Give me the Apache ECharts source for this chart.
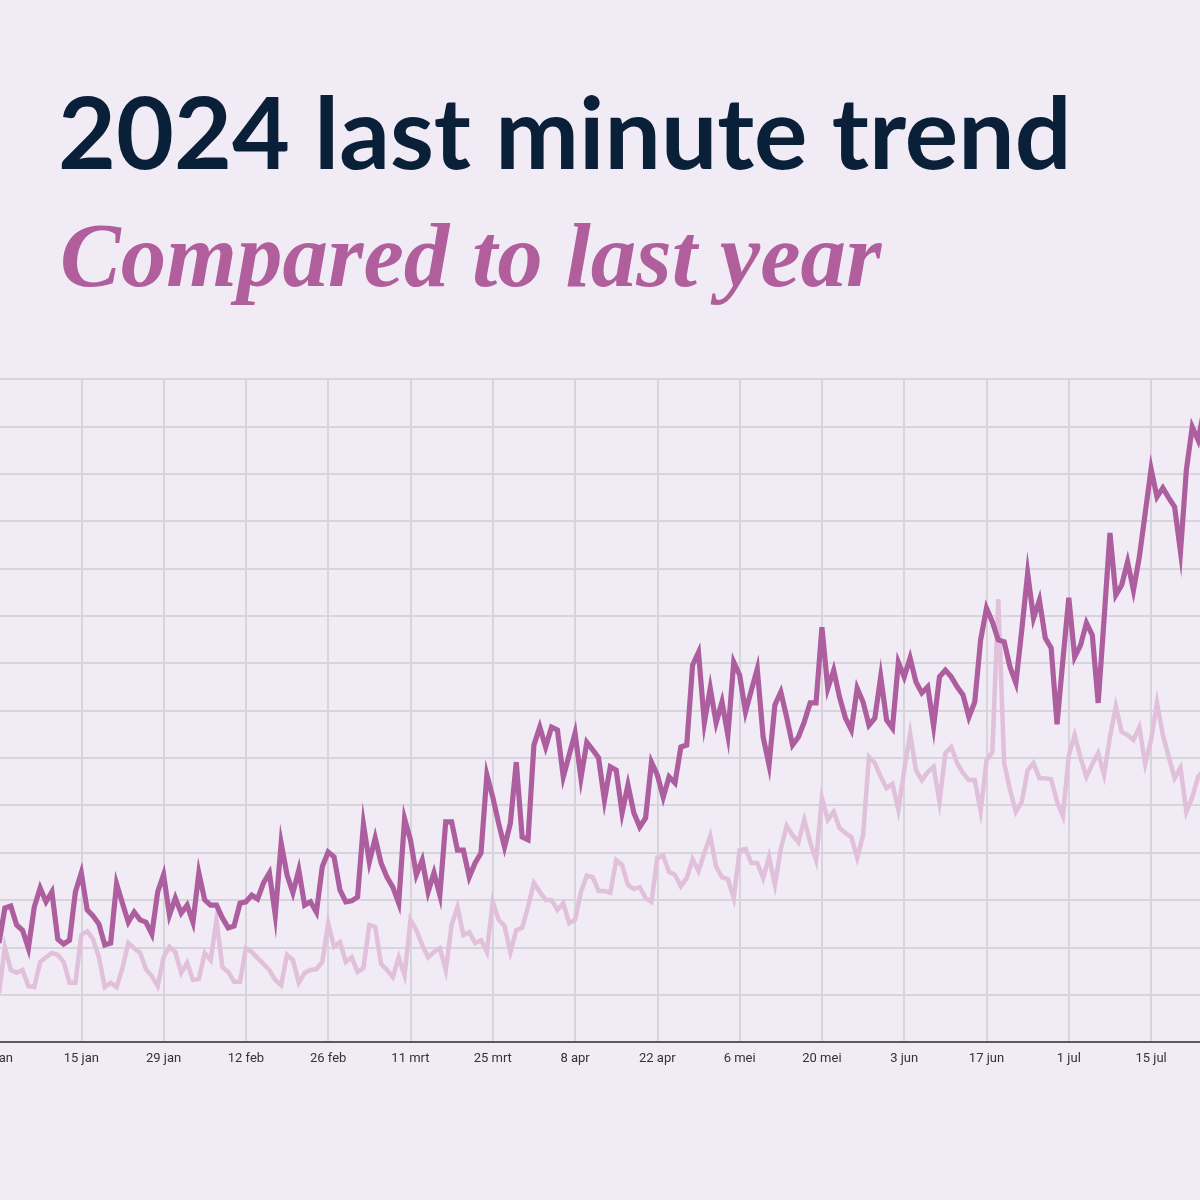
<!DOCTYPE html>
<html>
<head>
<meta charset="utf-8">
<script src="https://cdn.jsdelivr.net/npm/echarts@6/dist/echarts.min.js"></script>
<style>
html,body{margin:0;padding:0;background:#f0ebf4;}
#chart{width:1200px;height:1200px;}
</style>
</head>
<body>
<div id="chart"></div>
<script>
// Day index since 1 Jan 2024
const tickLabels = ['1 jan','15 jan','29 jan','12 feb','26 feb','11 mrt','25 mrt','8 apr','22 apr','6 mei','20 mei','3 jun','17 jun','1 jul','15 jul'];

// 2024 (dark line), one value per day from 1 Jan
const thisYear = [
209,283,287,247,236,198,285,325,296,317,217,207,215,317,357,279,266,249,205,209,
334,293,253,274,258,253,228,317,353,268,304,272,289,253,357,300,289,289,262,241,
245,293,296,310,302,336,357,268,420,353,315,363,289,296,274,370,401,391,321,296,
298,306,460,380,431,378,348,327,293,471,427,353,384,317,357,310,465,465,405,405,
348,378,399,564,517,462,412,462,591,433,427,627,665,623,665,659,560,606,652,557,
633,617,600,511,581,574,484,543,484,454,473,591,564,517,560,547,623,627,796,823,
674,747,674,718,648,802,775,697,743,788,644,585,712,739,686,627,644,676,716,716,
876,747,785,728,684,659,747,718,669,684,771,680,663,802,771,811,760,737,750,667,
771,785,771,750,733,686,718,849,916,887,849,845,792,758,870,990,895,933,853,832,
671,807,938,813,838,885,859,716,893,1075,944,965,1014,954,1024,1117,1210,1151,1170,1149,
1130,1035,1208,1299,1271,1334
];

// 2023 (light line), one value per day
const lastYear = [
103,201,152,146,152,118,116,169,179,188,184,169,125,125,226,234,217,179,116,125,
116,156,209,198,188,154,139,118,179,201,190,146,167,131,133,188,173,258,158,148,
127,127,198,190,177,165,152,131,120,184,173,125,146,152,154,169,251,201,211,169,
179,148,156,247,243,165,152,137,179,141,258,236,205,179,190,198,152,247,285,226,
232,209,215,190,296,258,245,190,236,241,285,336,317,300,300,279,293,251,258,317,
351,348,319,319,315,384,374,332,323,327,304,296,389,393,359,353,329,346,386,361,
399,435,370,348,344,304,405,408,378,378,346,391,332,408,456,437,422,469,422,384,
515,469,486,452,441,433,389,437,602,589,560,536,545,490,574,652,574,553,570,581,
507,610,623,589,568,553,553,488,595,612,935,589,532,486,507,574,589,557,557,555,
507,477,606,648,600,560,587,610,564,644,709,655,648,638,665,587,638,716,648,602,
557,579,486,517,560,574
];

const toPairs = arr => arr.map((v, i) => [i, v]);

const chart = echarts.init(document.getElementById('chart'), null, {renderer: 'canvas'});
chart.setOption({
  backgroundColor: '#f0ebf4',
  animation: false,
  grid: {
    left: -1, right: -4, top: 379, bottom: 158,
    containLabel: false,
    outerBoundsMode: 'none'
  },
  graphic: [
    {
      type: 'text', left: 58, top: 87,
      style: {
        text: '2024 last minute trend',
        font: '700 100px Lato',
        fill: '#0a1f38'
      }
    },
    {
      type: 'text', left: 60, top: 217,
      style: {
        text: 'Compared to last year',
        font: 'italic 700 91px "Liberation Serif"',
        fill: '#b05f9c'
      }
    }
  ],
  xAxis: {
    type: 'value',
    min: 0, max: 205, interval: 14,
    axisLine: {show: true, lineStyle: {color: '#5a5a5a', width: 2}},
    axisTick: {show: false},
    axisLabel: {
      show: true, margin: 10,
      color: '#333', fontSize: 13, fontFamily: 'Roboto',
      formatter: v => (v % 14 === 0 ? (tickLabels[v / 14] || '') : ''),
      showMaxLabel: false
    },
    splitLine: {show: true, lineStyle: {color: '#d8d4db', width: 2}}
  },
  yAxis: {
    type: 'value',
    min: 0, max: 1400, interval: 100,
    axisLine: {show: false},
    axisTick: {show: false},
    axisLabel: {show: false},
    splitLine: {show: true, lineStyle: {color: '#d8d4db', width: 2}}
  },
  series: [
    {
      name: '2023', type: 'line', data: toPairs(lastYear),
      showSymbol: false, symbol: 'none', z: 2,
      lineStyle: {color: '#e0c0da', width: 4.5, join: 'miter'}
    },
    {
      name: '2024', type: 'line', data: toPairs(thisYear),
      showSymbol: false, symbol: 'none', z: 3,
      lineStyle: {color: '#ad5e9f', width: 5.2, join: 'miter'}
    }
  ]
});
</script>
</body>
</html>
